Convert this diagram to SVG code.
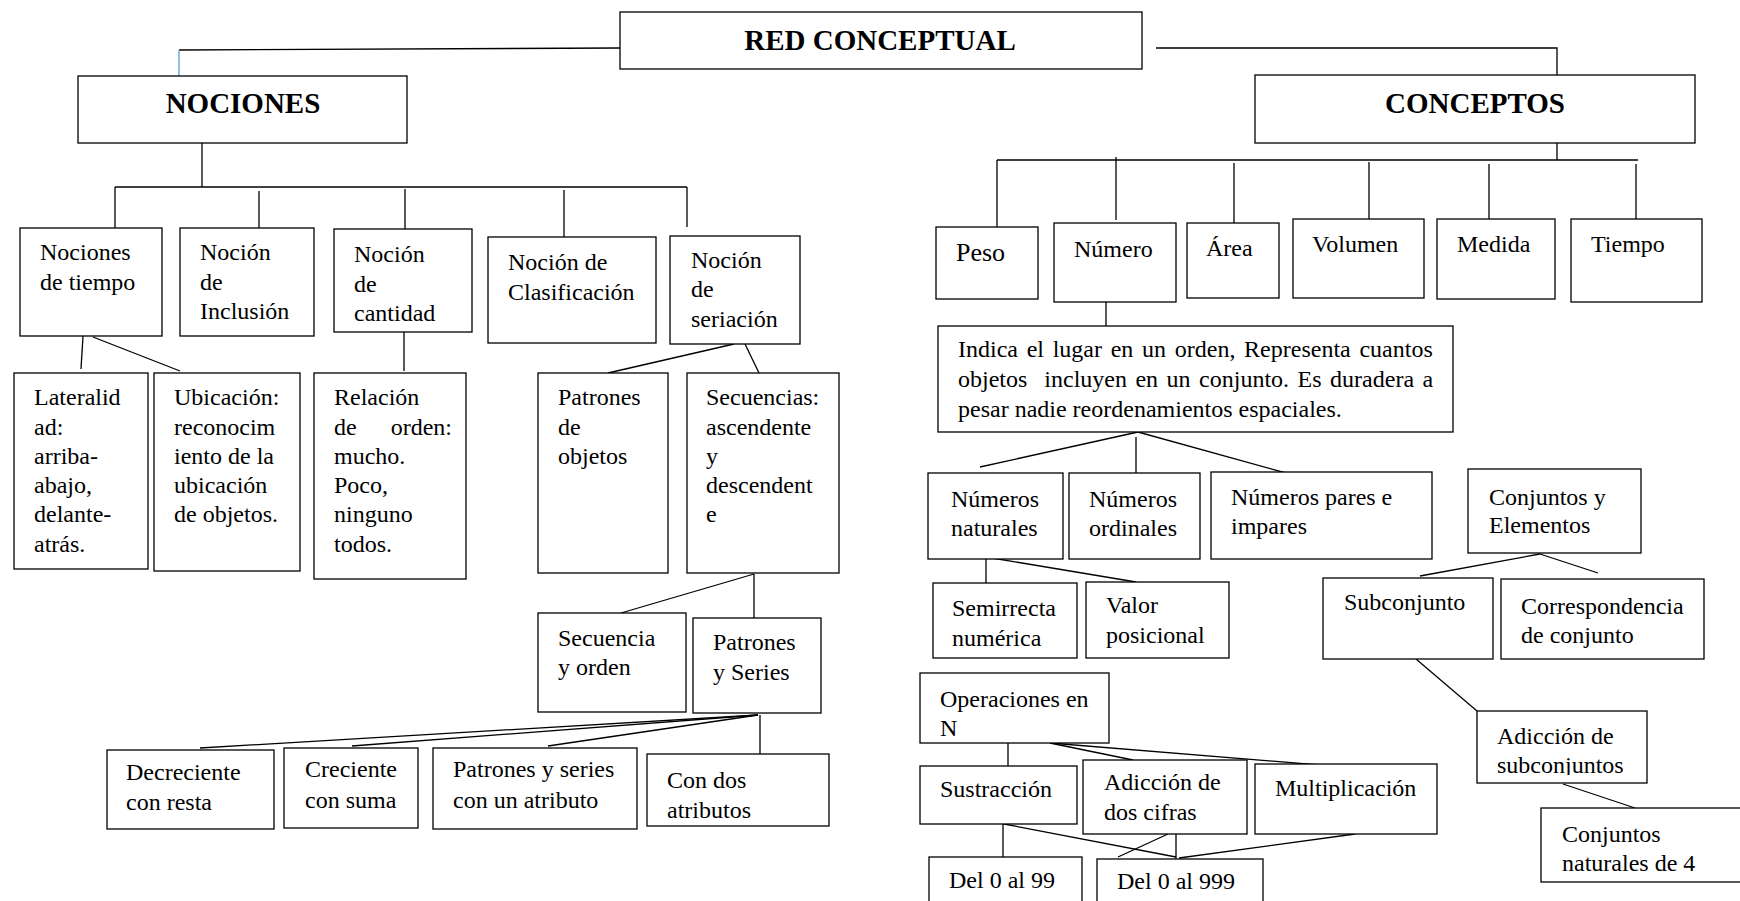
<svg xmlns="http://www.w3.org/2000/svg" width="1740" height="901" viewBox="0 0 1740 901">
<style>
.b{fill:#fff;stroke:#000;stroke-width:1.3}
.t{font-family:"Liberation Serif","Times New Roman",serif;font-size:24px;fill:#000}
.h{font-family:"Liberation Serif","Times New Roman",serif;font-size:29px;font-weight:bold;fill:#000;text-anchor:middle}
.c line,.c polyline{stroke:#000;stroke-width:1.3;fill:none}
</style>
<defs>
<clipPath id="clipsub"><rect x="1477" y="711" width="170" height="64"/></clipPath>
</defs>
<rect width="1740" height="901" fill="#fff"/>
<g class="c" id="connectors">
<line x1="620" y1="48" x2="179" y2="50"/>
<line x1="179" y1="50" x2="179" y2="76" style="stroke:#5b9bd5"/>
<polyline points="1156,48 1557,48 1557,75"/>
<line x1="202" y1="143" x2="202" y2="187"/>
<line x1="115" y1="187" x2="687" y2="187"/>
<line x1="115" y1="187" x2="115" y2="228"/>
<line x1="259" y1="191" x2="259" y2="230"/>
<line x1="405" y1="189" x2="405" y2="229"/>
<line x1="564" y1="190" x2="564" y2="237"/>
<line x1="687" y1="187" x2="687" y2="227"/>
<line x1="83" y1="336" x2="81" y2="369"/>
<line x1="93" y1="337" x2="180" y2="371"/>
<line x1="404" y1="332" x2="404" y2="371"/>
<line x1="734" y1="344" x2="608" y2="373"/>
<line x1="745" y1="344" x2="759" y2="373"/>
<line x1="754" y1="574" x2="621" y2="613"/>
<line x1="754" y1="574" x2="754" y2="618"/>
<line x1="758" y1="715" x2="200" y2="748"/>
<line x1="758" y1="715" x2="352" y2="746"/>
<line x1="758" y1="715" x2="548" y2="746"/>
<line x1="760" y1="715" x2="760" y2="754"/>
<line x1="1557" y1="143" x2="1557" y2="160"/>
<line x1="997" y1="160" x2="1638" y2="160"/>
<line x1="997" y1="160" x2="997" y2="227"/>
<line x1="1116" y1="157" x2="1116" y2="220"/>
<line x1="1234" y1="163" x2="1234" y2="223"/>
<line x1="1369" y1="162" x2="1369" y2="219"/>
<line x1="1489" y1="164" x2="1489" y2="219"/>
<line x1="1636" y1="164" x2="1636" y2="219"/>
<line x1="1106" y1="302" x2="1106" y2="326"/>
<line x1="1138" y1="432" x2="980" y2="467"/>
<line x1="1136" y1="437" x2="1136" y2="473"/>
<line x1="1138" y1="432" x2="1286" y2="473"/>
<line x1="986" y1="559" x2="986" y2="585"/>
<line x1="986" y1="557" x2="1136" y2="582"/>
<line x1="1540" y1="554" x2="1420" y2="576"/>
<line x1="1540" y1="554" x2="1598" y2="573"/>
<line x1="1416" y1="659" x2="1477" y2="711"/>
<line x1="1563" y1="784" x2="1635" y2="808"/>
<line x1="1008" y1="743" x2="1008" y2="766"/>
<line x1="1050" y1="743" x2="1133" y2="760"/>
<line x1="1050" y1="743" x2="1320" y2="765"/>
<line x1="1003" y1="824" x2="1003" y2="857"/>
<line x1="1004" y1="824" x2="1176" y2="857"/>
<line x1="1168" y1="834" x2="1118" y2="857"/>
<line x1="1176" y1="834" x2="1176" y2="859"/>
<line x1="1355" y1="834" x2="1179" y2="858"/>
</g>
<g id="n-red"><rect class="b" x="620" y="12" width="522" height="57"/><text class="h" x="880" y="50">RED CONCEPTUAL</text></g>
<g id="n-nociones"><rect class="b" x="78" y="76" width="329" height="67"/><text class="h" x="243" y="113">NOCIONES</text></g>
<g id="n-conceptos"><rect class="b" x="1255" y="75" width="440" height="68"/><text class="h" x="1475" y="113">CONCEPTOS</text></g>
<g id="n-tiempo"><rect class="b" x="20" y="228" width="142" height="108"/><text class="t" x="40" y="260">Nociones</text><text class="t" x="40" y="290">de tiempo</text></g>
<g id="n-inclusion"><rect class="b" x="180" y="228" width="134" height="108"/><text class="t" x="200" y="260">Noción</text><text class="t" x="200" y="290">de</text><text class="t" x="200" y="319">Inclusión</text></g>
<g id="n-cantidad"><rect class="b" x="334" y="229" width="138" height="103"/><text class="t" x="354" y="262">Noción</text><text class="t" x="354" y="292">de</text><text class="t" x="354" y="321">cantidad</text></g>
<g id="n-clasificacion"><rect class="b" x="488" y="237" width="168" height="106"/><text class="t" x="508" y="270">Noción de</text><text class="t" x="508" y="300">Clasificación</text></g>
<g id="n-seriacion"><rect class="b" x="670" y="236" width="130" height="108"/><text class="t" x="691" y="268">Noción</text><text class="t" x="691" y="297">de</text><text class="t" x="691" y="327">seriación</text></g>
<g id="n-lateralidad"><rect class="b" x="14" y="373" width="134" height="196"/><text class="t" x="34" y="405">Lateralid</text><text class="t" x="34" y="435">ad:</text><text class="t" x="34" y="464">arriba-</text><text class="t" x="34" y="493">abajo,</text><text class="t" x="34" y="522">delante-</text><text class="t" x="34" y="552">atrás.</text></g>
<g id="n-ubicacion"><rect class="b" x="154" y="373" width="146" height="198"/><text class="t" x="174" y="405">Ubicación:</text><text class="t" x="174" y="435">reconocim</text><text class="t" x="174" y="464">iento de la</text><text class="t" x="174" y="493">ubicación</text><text class="t" x="174" y="522">de objetos.</text></g>
<g id="n-relacion"><rect class="b" x="314" y="373" width="152" height="206"/><text class="t" x="334" y="405">Relación</text><text class="t" x="334" y="435">de</text><text class="t" x="452" y="435" text-anchor="end">orden:</text><text class="t" x="334" y="464">mucho.</text><text class="t" x="334" y="493">Poco,</text><text class="t" x="334" y="522">ninguno</text><text class="t" x="334" y="552">todos.</text></g>
<g id="n-patrones-objetos"><rect class="b" x="538" y="373" width="130" height="200"/><text class="t" x="558" y="405">Patrones</text><text class="t" x="558" y="435">de</text><text class="t" x="558" y="464">objetos</text></g>
<g id="n-secuencias"><rect class="b" x="687" y="373" width="152" height="200"/><text class="t" x="706" y="405">Secuencias:</text><text class="t" x="706" y="435">ascendente</text><text class="t" x="706" y="464">y</text><text class="t" x="706" y="493">descendent</text><text class="t" x="706" y="522">e</text></g>
<g id="n-secuencia-orden"><rect class="b" x="538" y="613" width="148" height="99"/><text class="t" x="558" y="646">Secuencia</text><text class="t" x="558" y="675">y orden</text></g>
<g id="n-patrones-series"><rect class="b" x="693" y="618" width="128" height="95"/><text class="t" x="713" y="650">Patrones</text><text class="t" x="713" y="680">y Series</text></g>
<g id="n-decreciente"><rect class="b" x="107" y="750" width="167" height="79"/><text class="t" x="126" y="780">Decreciente</text><text class="t" x="126" y="810">con resta</text></g>
<g id="n-creciente"><rect class="b" x="284" y="748" width="134" height="80"/><text class="t" x="305" y="777">Creciente</text><text class="t" x="305" y="808">con suma</text></g>
<g id="n-un-atributo"><rect class="b" x="433" y="748" width="204" height="81"/><text class="t" x="453" y="777">Patrones y series</text><text class="t" x="453" y="808">con un atributo</text></g>
<g id="n-dos-atributos"><rect class="b" x="647" y="754" width="182" height="72"/><text class="t" x="667" y="788">Con dos</text><text class="t" x="667" y="818">atributos</text></g>
<g id="n-peso"><rect class="b" x="936" y="227" width="102" height="72"/><text class="t" x="956" y="261" style="font-size:26px">Peso</text></g>
<g id="n-numero"><rect class="b" x="1054" y="223" width="122" height="79"/><text class="t" x="1074" y="257">Número</text></g>
<g id="n-area"><rect class="b" x="1187" y="223" width="92" height="75"/><text class="t" x="1206" y="256">Área</text></g>
<g id="n-volumen"><rect class="b" x="1293" y="219" width="131" height="79"/><text class="t" x="1312" y="252">Volumen</text></g>
<g id="n-medida"><rect class="b" x="1437" y="219" width="118" height="80"/><text class="t" x="1457" y="252">Medida</text></g>
<g id="n-tiempo2"><rect class="b" x="1571" y="219" width="131" height="83"/><text class="t" x="1591" y="252">Tiempo</text></g>
<g id="n-indica"><rect class="b" x="938" y="326" width="515" height="106"/><text class="t" x="958" y="357" style="word-spacing:2.7px">Indica el lugar en un orden, Representa cuantos</text><text class="t" x="958" y="387" style="word-spacing:2.5px;white-space:pre">objetos  incluyen en un conjunto. Es duradera a</text><text class="t" x="958" y="417">pesar nadie reordenamientos espaciales.</text></g>
<g id="n-naturales"><rect class="b" x="928" y="473" width="135" height="86"/><text class="t" x="951" y="507">Números</text><text class="t" x="951" y="536">naturales</text></g>
<g id="n-ordinales"><rect class="b" x="1069" y="473" width="131" height="86"/><text class="t" x="1089" y="507">Números</text><text class="t" x="1089" y="536">ordinales</text></g>
<g id="n-pares"><rect class="b" x="1211" y="472" width="221" height="87"/><text class="t" x="1231" y="505">Números pares e</text><text class="t" x="1231" y="534">impares</text></g>
<g id="n-conjuntos"><rect class="b" x="1468" y="469" width="173" height="84"/><text class="t" x="1489" y="505">Conjuntos y</text><text class="t" x="1489" y="533">Elementos</text></g>
<g id="n-semirrecta"><rect class="b" x="933" y="583" width="144" height="75"/><text class="t" x="952" y="616">Semirrecta</text><text class="t" x="952" y="646">numérica</text></g>
<g id="n-valor"><rect class="b" x="1086" y="582" width="143" height="76"/><text class="t" x="1106" y="613">Valor</text><text class="t" x="1106" y="643">posicional</text></g>
<g id="n-subconjunto"><rect class="b" x="1323" y="578" width="170" height="81"/><text class="t" x="1344" y="610">Subconjunto</text></g>
<g id="n-correspondencia"><rect class="b" x="1501" y="579" width="203" height="80"/><text class="t" x="1521" y="614">Correspondencia</text><text class="t" x="1521" y="643">de conjunto</text></g>
<g id="n-operaciones"><rect class="b" x="920" y="673" width="189" height="70"/><text class="t" x="940" y="707">Operaciones en</text><text class="t" x="940" y="736">N</text></g>
<g id="n-sustraccion"><rect class="b" x="920" y="766" width="157" height="58"/><text class="t" x="940" y="797">Sustracción</text></g>
<g id="n-adiccion"><rect class="b" x="1083" y="760" width="164" height="74"/><text class="t" x="1104" y="790">Adicción de</text><text class="t" x="1104" y="820">dos cifras</text></g>
<g id="n-multiplicacion"><rect class="b" x="1255" y="764" width="182" height="70"/><text class="t" x="1275" y="796">Multiplicación</text></g>
<g id="n-adiccion-sub"><rect class="b" x="1477" y="711" width="170" height="72"/><text class="t" x="1497" y="744">Adicción de</text><text class="t" x="1497" y="773" clip-path="url(#clipsub)">subconjuntos</text></g>
<g id="n-naturales4"><rect class="b" x="1541" y="808" width="204" height="74"/><text class="t" x="1562" y="842">Conjuntos</text><text class="t" x="1562" y="871">naturales de 4</text></g>
<g id="n-del99"><rect class="b" x="929" y="857" width="153" height="50"/><text class="t" x="949" y="888">Del 0 al 99</text></g>
<g id="n-del999"><rect class="b" x="1097" y="859" width="166" height="50"/><text class="t" x="1117" y="889">Del 0 al 999</text></g>
</svg>
